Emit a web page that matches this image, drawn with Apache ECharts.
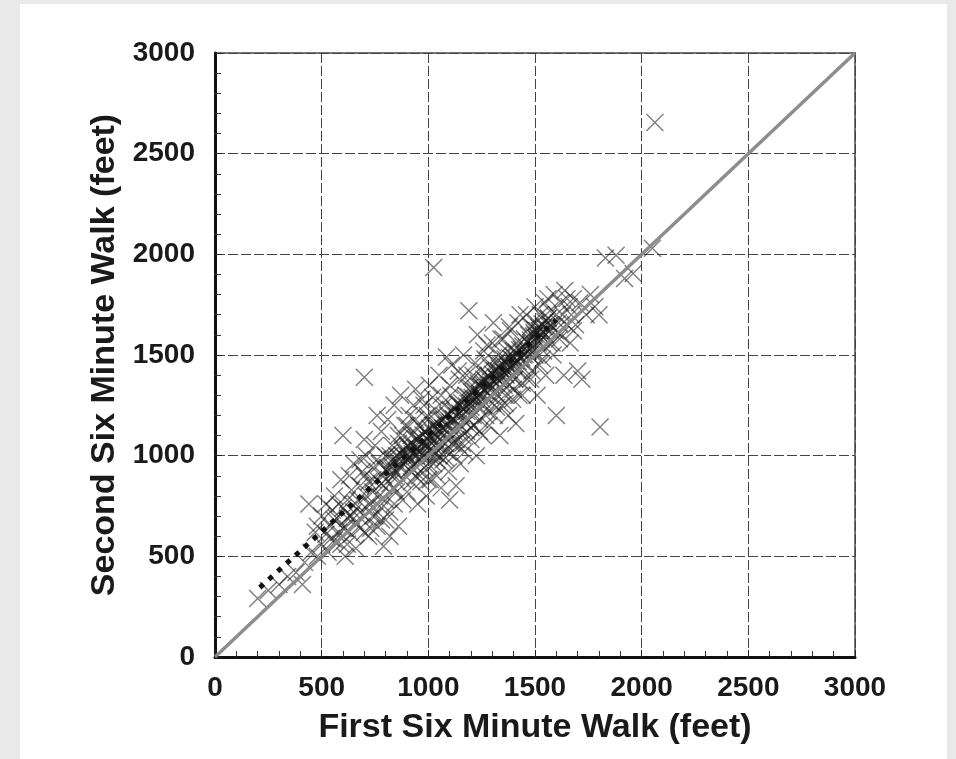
<!DOCTYPE html>
<html>
<head>
<meta charset="utf-8">
<script src="https://cdn.jsdelivr.net/npm/echarts@6/dist/echarts.min.js"></script>
<style>
  html, body { margin: 0; padding: 0; background: #e9e9e9; }
  #chart { position: absolute; left: 20px; top: 4px; width: 927px; height: 755px; background: #ffffff; }
</style>
</head>
<body>
<div id="chart"></div>
<script>
// Axis settings
const axisMax = 3000;
const tickStep = 500;

// First vs second six minute walk (feet)
const walkPairs = [
    [200,290],[250,330],[300,360],[340,400],[380,420],[410,360],[420,470],[450,520],[440,760],[470,620],
    [480,500],[500,560],[500,700],[520,610],[530,520],[540,650],[550,730],[560,580],[570,690],[580,620],
    [590,560],[600,740],[600,1100],[610,640],[620,780],[620,560],[630,700],[640,830],[640,610],[650,960],
    [650,720],[660,540],[560,800],[520,760],[590,880],[630,900],[660,670],[480,650],[610,500],[545,590],
    [670,780],[680,850],[680,640],[690,920],[700,700],[700,1390],[710,800],[710,1000],[720,870],[720,600],
    [730,760],[740,940],[740,820],[750,1050],[750,700],[760,880],[760,650],[770,960],[770,800],[780,1120],
    [780,740],[790,900],[790,850],[800,1000],[800,680],[800,780],[810,940],[810,1180],[820,860],[820,720],
    [830,1050],[830,980],[840,900],[840,1250],[840,760],[850,1000],[850,820],[760,1200],[700,1080],[680,980],
    [820,600],[790,550],[730,640],[860,650],[860,1100],[870,950],[870,1300],[880,880],[880,1030],[890,1150],
    [900,980],[900,1000],[900,820],[905,1050],[910,930],[910,1200],[915,990],[920,1100],[920,870],[925,1010],
    [930,960],[930,1250],[935,1040],[940,1330],[940,900],[945,1000],[950,1080],[950,760],[955,1150],[960,980],
    [960,1020],[965,870],[970,1060],[970,1280],[975,1000],[980,940],[980,1120],[985,1050],[990,1010],[990,800],
    [995,1200],[1000,1040],[1000,960],[1000,1100],[1005,1350],[1010,1000],[1010,880],[1015,1060],[1020,1020],[1020,1150],
    [1025,1935],[1025,960],[1030,1080],[1030,1230],[1035,1010],[1040,1050],[1040,900],[1045,1120],[1050,1000],[1050,1400],
    [1055,1080],[1060,1040],[1060,840],[1065,1180],[1070,1100],[1070,980],[1075,1250],[1080,1060],[1080,1130],[1085,1490],
    [1090,1020],[1090,1200],[1095,920],[1100,1100],[1100,1150],[1100,780],[1105,1300],[1110,1060],[1110,1450],[1115,1180],
    [1120,1000],[1120,1120],[1125,1220],[1130,1080],[1130,850],[1135,1260],[1140,1160],[1140,1050],[1145,1380],[1150,1130],
    [1150,960],[1155,1200],[1160,1240],[1160,1100],[1165,1500],[1170,1170],[1170,1020],[1175,1300],[1180,1220],[1180,1120],
    [1185,1260],[1190,1180],[1190,1720],[1195,1340],[1200,1240],[1200,1080],[1205,1290],[1210,1200],[1210,1400],[1215,1150],
    [1220,1280],[1220,1320],[1225,1000],[1230,1250],[1230,1600],[1235,1360],[1240,1300],[1240,1180],[1245,1420],[1250,1280],
    [1250,1340],[1255,1100],[1260,1380],[1260,1250],[1265,1480],[1270,1320],[1270,1200],[1275,1550],[1280,1350],[1280,1400],
    [1285,1150],[1290,1300],[1290,1440],[1295,1380],[1300,1340],[1300,1260],[1305,1660],[1310,1420],[1310,1200],[1315,1390],
    [1320,1360],[1320,1460],[1325,1300],[1330,1500],[1330,1420],[1335,1100],[1340,1380],[1340,1450],[1345,1250],[1350,1420],
    [1350,1580],[1355,1350],[1360,1480],[1360,1300],[1365,1400],[1370,1450],[1370,1520],[1375,1200],[1380,1440],[1380,1350],
    [1385,1620],[1390,1480],[1390,1400],[1395,1280],[1400,1450],[1400,1520],[1405,1380],[1410,1470],[1410,1160],[1415,1560],
    [1420,1500],[1420,1420],[1425,1300],[1430,1480],[1430,1700],[1435,1530],[1440,1440],[1440,1360],[1445,1500],[1450,1580],
    [1455,1460],[1460,1540],[1465,1380],[1470,1600],[1475,1500],[1480,1560],[1480,1640],[1485,1420],[1490,1520],[1495,1610],
    [1500,1600],[1500,1500],[1505,1660],[1510,1620],[1510,1300],[1515,1560],[1520,1620],[1525,1700],[1530,1580],[1535,1480],
    [1540,1640],[1545,1760],[1550,1600],[1550,1400],[1560,1680],[1565,1560],[1570,1720],[1580,1640],[1585,1500],[1590,1800],
    [1595,1620],[1600,1700],[1600,1200],[1610,1660],[1615,1580],[1620,1760],[1630,1700],[1635,1400],[1640,1820],[1650,1650],
    [1660,1740],[1665,1560],[1670,1700],[1680,1780],[1690,1650],[1700,1420],[1710,1760],[1720,1380],[1740,1700],[1760,1800],
    [1780,1740],[1800,1700],[1805,1142],[1830,1982],[1880,1995],[1960,1905],[1920,1880],[2050,2030],[2062,2655],
    // dense band just above the identity line
    [822,905],[829,948],[837,925],[846,985],[851,918],[862,995],[867,942],[878,1003],[883,958],[893,1015],
    [902,1048],[907,987],[918,1032],[923,1064],[934,1003],[941,1082],[947,1038],[958,1093],[963,1027],[974,1104],
    [979,1068],[989,1118],[997,1083],[1006,1136],[1011,1088],[1021,1113],[1027,1152],[1038,1098],[1043,1163],[1053,1128],
    [1061,1174],[1067,1137],[1078,1193],[1083,1152],[1093,1204],[1101,1168],[1107,1226],[1118,1183],[1123,1232],[1133,1197],
    [1141,1254],[1147,1212],[1157,1263],[1163,1228],[1174,1284],[1179,1247],[1189,1293],[1197,1262],[1203,1316],[1213,1278],
    [1221,1334],[1227,1287],[1238,1345],[1243,1308],[1253,1366],[1261,1327],[1267,1372],[1278,1338],[1283,1394],[1293,1352],
    [1301,1404],[1307,1368],[1318,1425],[1323,1383],[1333,1436],[1341,1398],[1347,1456],[1358,1412],[1363,1464],[1373,1428],
    [1381,1487],[1387,1442],[1398,1495],[1403,1458],[1413,1514],[1421,1468],[1427,1526],[1438,1487],[1443,1545],[1453,1503],
    [1461,1566],[1467,1518],[1478,1574],[1483,1543],[1493,1594],[1501,1625],[1507,1578],[1518,1636],[1523,1602],[1533,1654],
    [1541,1613],[1547,1665],[1558,1628],[1563,1684],[1573,1652],
    // wider scatter around the band
    [620,690],[660,760],[700,900],[720,760],[740,700],[760,980],[780,860],[800,930],[820,1000],[840,840],
    [860,1060],[880,780],[900,1150],[920,940],[940,1180],[960,900],[980,1250],[1000,880],[1020,1290],[1040,980],
    [1060,1300],[1080,990],[1100,1350],[1120,1060],[1140,1420],[1160,1060],[1180,1400],[1200,1140],[1220,1460],[1240,1120],
    [1260,1520],[1280,1220],[1300,1560],[1320,1240],[1340,1580],[1360,1260],[1380,1640],[1400,1330],[1420,1660],[1440,1300],
    [1460,1700],[1480,1380],[1500,1740],[1520,1450],[1540,1520],[1560,1780],[1580,1560],[1620,1600],[1650,1780],[1680,1620],
    [560,680],[580,760],[600,640],[640,700],[680,720],[700,620],[740,880],[780,680],[880,1100],[1000,1180]
];

// Line of identity and the dotted fit line
const identityLine = [[0, 0], [3000, 3000]];
const fitLine = [[210, 345], [1600, 1675]];

const xTitle = 'First Six Minute Walk (feet)';
const yTitle = 'Second Six Minute Walk (feet)';

const chart = echarts.init(document.getElementById('chart'));

const labelFont = {
    fontFamily: 'Liberation Sans, Arial, sans-serif',
    fontWeight: 'bold',
    color: '#1a1a1a'
};

function makeAxis(name, isX) {
    return {
        type: 'value',
        min: 0,
        max: axisMax,
        interval: tickStep,
        name: name,
        nameLocation: 'middle',
        nameGap: isX ? 54 : 88,
        nameTextStyle: Object.assign({ fontSize: 34 }, labelFont),
        axisLine: { show: true, onZero: false, lineStyle: { color: '#111', width: 3 } },
        axisTick: { show: true, inside: true, length: 7, lineStyle: { color: '#222', width: 1 } },
        minorTick: { show: true, splitNumber: 5, length: 6, lineStyle: { color: '#333', width: 1 } },
        axisLabel: Object.assign({
            fontSize: 28,
            margin: isX ? 17 : 20,
            formatter: value => String(value)
        }, labelFont),
        splitLine: { show: true, lineStyle: { color: '#444', width: 1, type: [10, 3] } }
    };
}

const option = {
    animation: false,
    backgroundColor: '#ffffff',
    grid: {
        left: 195,
        top: 49,
        width: 640,
        height: 604,
        show: true,
        borderColor: '#777',
        borderWidth: 2
    },
    xAxis: makeAxis(xTitle, true),
    yAxis: makeAxis(yTitle, false),
    series: [
        {
            type: 'scatter',
            data: walkPairs,
            symbol: 'path://M0,0L10,10M10,0L0,10',
            symbolSize: 17,
            z: 2,
            itemStyle: {
                color: 'none',
                borderColor: 'rgba(25,25,25,0.7)',
                borderWidth: 1.4
            }
        },
        {
            type: 'line',
            data: identityLine,
            symbol: 'none',
            z: 3,
            lineStyle: { color: 'rgba(135,135,135,0.95)', width: 3.5 }
        },
        {
            type: 'line',
            data: fitLine,
            symbol: 'none',
            z: 4,
            lineStyle: { color: '#111', width: 5, type: [5, 7] }
        }
    ]
};

chart.setOption(option);
</script>
</body>
</html>
